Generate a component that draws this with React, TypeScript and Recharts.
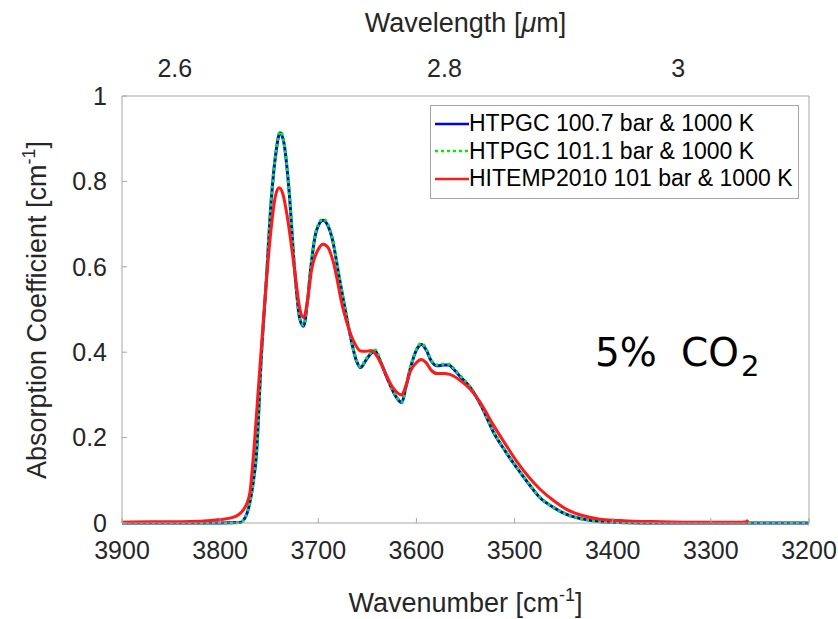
import { LineChart, Line, XAxis, YAxis, Legend } from "recharts";

const FONT = '"Liberation Sans", Arial, Helvetica, sans-serif';
const AXIS_GRAY = '#a6a6a6';
const TEXT = '#262626';

// wavenumber grid [cm-1] shared by the two HTPGC runs
const htpgcWn = [
  3900, 3850, 3800, 3780, 3774, 3770, 3766, 3763, 3758, 3753, 3748, 3743, 3739, 3735, 3730,
  3724, 3719, 3715, 3711, 3708, 3702, 3695, 3690, 3686, 3678, 3669, 3661, 3657, 3651, 3646,
  3642, 3637, 3630, 3620, 3615, 3611, 3606, 3600, 3595, 3590, 3585, 3579, 3573, 3567, 3562,
  3555, 3545, 3533, 3522, 3510, 3498, 3486, 3474, 3460, 3447, 3430, 3413, 3395, 3370, 3340,
  3300, 3250, 3200,
];

// HTPGC 100.7 bar & 1000 K
const htpgc1007 = [
  0, 0, 0, 0.001, 0.015, 0.045, 0.1, 0.16, 0.39, 0.567, 0.754, 0.87, 0.914, 0.89, 0.785,
  0.59, 0.48, 0.461, 0.52, 0.59, 0.684, 0.709, 0.695, 0.668, 0.567, 0.457, 0.379, 0.364, 0.383, 0.398,
  0.403, 0.38, 0.34, 0.293, 0.282, 0.315, 0.364, 0.405, 0.418, 0.405, 0.38, 0.368, 0.37, 0.37, 0.36,
  0.342, 0.317, 0.27, 0.215, 0.17, 0.13, 0.093, 0.059, 0.036, 0.02, 0.009, 0.003, 0.001, 0, 0,
  0, 0, 0,
];

// HTPGC 101.1 bar & 1000 K
const htpgc1011 = [
  0, 0, 0, 0.001, 0.015, 0.046, 0.1, 0.162, 0.392, 0.57, 0.756, 0.872, 0.917, 0.892, 0.787,
  0.592, 0.482, 0.463, 0.522, 0.592, 0.686, 0.712, 0.698, 0.67, 0.569, 0.459, 0.381, 0.366, 0.385, 0.4,
  0.405, 0.382, 0.341, 0.294, 0.283, 0.317, 0.366, 0.407, 0.421, 0.407, 0.382, 0.37, 0.372, 0.372, 0.362,
  0.344, 0.318, 0.271, 0.216, 0.171, 0.131, 0.094, 0.06, 0.036, 0.02, 0.009, 0.003, 0.001, 0, 0,
  0, 0, 0,
];

// HITEMP2010 101 bar & 1000 K
const hitempWn = [
  3900, 3870, 3840, 3820, 3800, 3787, 3776, 3770, 3766, 3761, 3756, 3749, 3744, 3740, 3736,
  3732, 3724, 3719, 3715, 3711, 3707, 3700, 3695, 3690, 3685, 3675, 3664, 3657, 3651, 3646,
  3640, 3635, 3624, 3615, 3611, 3606, 3600, 3595, 3590, 3585, 3579, 3572, 3566, 3556, 3545,
  3533, 3522, 3510, 3498, 3486, 3474, 3460, 3447, 3430, 3413, 3395, 3379, 3350, 3320, 3290,
  3268, 3264, 3262,
];
const hitemp = [
  0.002, 0.003, 0.003, 0.004, 0.008, 0.013, 0.032, 0.067, 0.161, 0.317, 0.473, 0.668, 0.762, 0.785, 0.77,
  0.723, 0.59, 0.504, 0.481, 0.52, 0.59, 0.641, 0.653, 0.645, 0.614, 0.504, 0.426, 0.403, 0.402, 0.404,
  0.39, 0.368, 0.317, 0.3, 0.32, 0.356, 0.376, 0.383, 0.375, 0.358, 0.35, 0.35, 0.348, 0.335, 0.313,
  0.275, 0.231, 0.187, 0.145, 0.109, 0.079, 0.052, 0.032, 0.017, 0.009, 0.006, 0.004, 0.003, 0.002, 0.002,
  0.002, 0.003, 0.007,
];

const wavenumberTicks = [3900, 3800, 3700, 3600, 3500, 3400, 3300, 3200];
const wavelengthTicks = [2.6, 2.8, 3]; // [um], placed at 10000 / lambda
const yTicks = [0, 0.2, 0.4, 0.6, 0.8, 1];

const SERIES = [
  { name: 'HTPGC 100.7 bar & 1000 K', color: '#0000ff', dash: undefined as string | undefined },
  { name: 'HTPGC 101.1 bar & 1000 K', color: '#00ee00', dash: '3 3' },
  { name: 'HITEMP2010 101 bar & 1000 K', color: '#ff1a1a', dash: undefined as string | undefined },
];

const toRows = (wn: number[], k: number[]) => wn.map((w, i) => ({ wn: w, k: k[i] }));

const blueData = toRows(htpgcWn, htpgc1007);
const greenData = toRows(htpgcWn, htpgc1011);
const redData = toRows(hitempWn, hitemp);

function LegendBox() {
  return (
    <div
      style={{
        border: `1px solid ${AXIS_GRAY}`,
        background: '#fff',
        padding: '4px 4px 5px 4px',
        fontFamily: FONT,
        fontSize: 23,
        color: '#000',
        lineHeight: '27.5px',
        width: 369,
        boxSizing: 'border-box',
        whiteSpace: 'nowrap',
      }}
    >
      {SERIES.map((s) => (
        <div key={s.name} style={{ display: 'flex', alignItems: 'center', height: 27.5 }}>
          <svg width={34} height={10} style={{ flex: 'none' }}>
            <line x1={0} x2={34} y1={5} y2={5} stroke={s.color} strokeWidth={2.5} strokeDasharray={s.dash} />
          </svg>
          <span>{s.name}</span>
        </div>
      ))}
    </div>
  );
}

export default function App() {
  return (
    <div style={{ position: 'absolute', left: 0, top: 0, background: '#fff' }}>
      <LineChart
        width={838}
        height={619}
        margin={{ top: 0, right: 28, bottom: 0, left: 0 }}
        style={{ fontFamily: FONT }}
      >
        <XAxis
          xAxisId="bottom"
          dataKey="wn"
          type="number"
          domain={[3200, 3900]}
          reversed
          allowDataOverflow
          ticks={wavenumberTicks}
          interval={0}
          height={96}
          tickSize={-5}
          tickMargin={23}
          stroke={AXIS_GRAY}
          tick={{ fill: TEXT, fontSize: 25 }}
        />
        <XAxis
          xAxisId="topTicks"
          dataKey="wn"
          orientation="top"
          type="number"
          domain={[3200, 3900]}
          reversed
          allowDataOverflow
          ticks={wavenumberTicks}
          interval={0}
          height={1}
          tickSize={-5}
          tick={false}
          stroke={AXIS_GRAY}
        />
        <XAxis
          xAxisId="wl"
          dataKey="wn"
          orientation="top"
          type="number"
          domain={[3200, 3900]}
          reversed
          allowDataOverflow
          ticks={wavelengthTicks.map((l) => 10000 / l)}
          interval={0}
          height={95}
          axisLine={false}
          tickLine={false}
          tickSize={0}
          tickMargin={18}
          tick={{ fill: TEXT, fontSize: 25 }}
          tickFormatter={(v: number) => String(parseFloat((10000 / v).toFixed(2)))}
        />
        <YAxis
          yAxisId="left"
          type="number"
          domain={[0, 1]}
          ticks={yTicks}
          interval={0}
          width={122}
          tickSize={-5}
          tickMargin={20}
          stroke={AXIS_GRAY}
          tick={{ fill: TEXT, fontSize: 25 }}
          tickFormatter={(v: number) => String(v)}
        />
        <YAxis
          yAxisId="right"
          orientation="right"
          type="number"
          domain={[0, 1]}
          ticks={yTicks}
          interval={0}
          width={1}
          tickSize={-5}
          tick={false}
          stroke={AXIS_GRAY}
        />

        {/* invisible carriers so the box axes (top / right) get a domain and render */}
        <Line
          xAxisId="topTicks"
          yAxisId="right"
          data={blueData}
          dataKey="k"
          stroke="none"
          legendType="none"
          dot={false}
          activeDot={false}
          isAnimationActive={false}
        />
        <Line
          xAxisId="wl"
          yAxisId="right"
          data={blueData}
          dataKey="k"
          stroke="none"
          legendType="none"
          dot={false}
          activeDot={false}
          isAnimationActive={false}
        />

        <Line
          xAxisId="bottom"
          yAxisId="left"
          data={blueData}
          dataKey="k"
          name={SERIES[0].name}
          type="monotone"
          stroke={SERIES[0].color}
          strokeWidth={3}
          dot={false}
          activeDot={false}
          isAnimationActive={false}
        />
        <Line
          xAxisId="bottom"
          yAxisId="left"
          data={greenData}
          dataKey="k"
          name={SERIES[1].name}
          type="monotone"
          stroke={SERIES[1].color}
          strokeWidth={3}
          strokeDasharray={SERIES[1].dash}
          dot={false}
          activeDot={false}
          isAnimationActive={false}
        />
        <Line
          xAxisId="bottom"
          yAxisId="left"
          data={redData}
          dataKey="k"
          name={SERIES[2].name}
          type="monotone"
          stroke={SERIES[2].color}
          strokeWidth={3}
          dot={false}
          activeDot={false}
          isAnimationActive={false}
        />

        <Legend
          layout="vertical"
          align="center"
          verticalAlign="middle"
          content={() => <LegendBox />}
          wrapperStyle={{ left: 430, top: 105, width: 369, height: 93 }}
        />

        <text x={465.5} y={32} textAnchor="middle" fontSize={27} fill={TEXT} fontFamily={FONT}>
          Wavelength [<tspan fontStyle="italic">μ</tspan>m]
        </text>
        <text x={465.5} y={612} textAnchor="middle" fontSize={27} fill={TEXT} fontFamily={FONT}>
          Wavenumber [cm<tspan dy={-11} fontSize={18}>-1</tspan>
          <tspan dy={11}>]</tspan>
        </text>
        <text
          transform="translate(46,310) rotate(-90)"
          textAnchor="middle"
          fontSize={27}
          fill={TEXT}
          fontFamily={FONT}
        >
          Absorption Coefficient [cm<tspan dy={-11} fontSize={18}>-1</tspan>
          <tspan dy={11}>]</tspan>
        </text>
        <text y={366} fontSize={39} fill="#000" fontFamily='"DejaVu Sans", sans-serif'>
          <tspan x={595}>5%</tspan>
          <tspan x={681}>CO</tspan>
          <tspan x={741} dy={10} fontSize={29}>2</tspan>
        </text>
      </LineChart>
    </div>
  );
}
